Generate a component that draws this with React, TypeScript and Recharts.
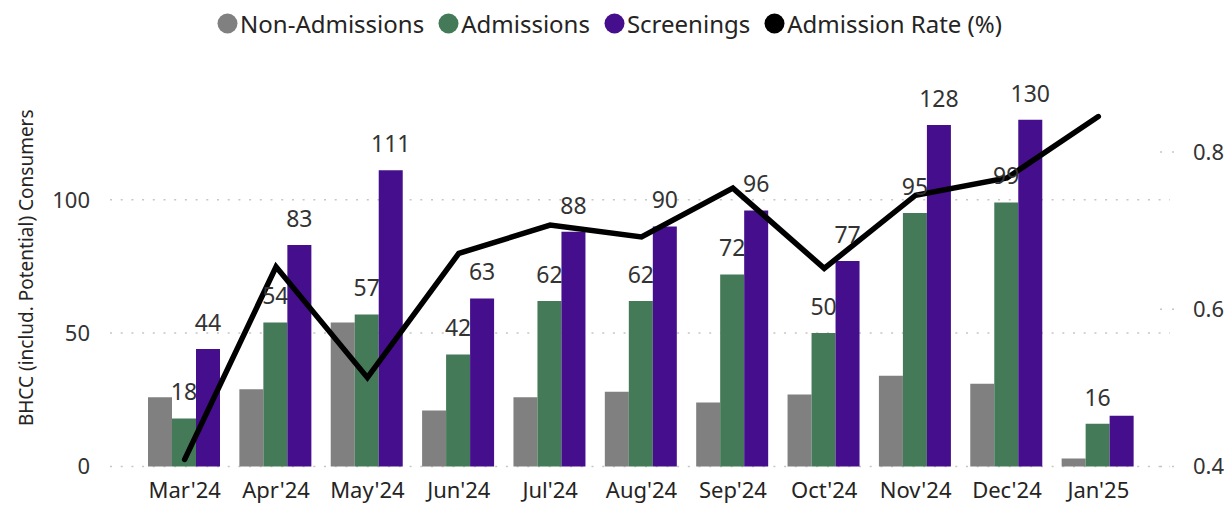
import React from 'react';
import {
  ComposedChart,
  Bar,
  Line,
  XAxis,
  YAxis,
  CartesianGrid,
  Legend,
  LabelList,
  Label,
} from 'recharts';

const months = ["Mar'24", "Apr'24", "May'24", "Jun'24", "Jul'24", "Aug'24", "Sep'24", "Oct'24", "Nov'24", "Dec'24", "Jan'25"];
const nonAdmissions = [26, 29, 54, 21, 26, 28, 24, 27, 34, 31, 3];
const admissions = [18, 54, 57, 42, 62, 62, 72, 50, 95, 99, 16];
const screenings = [44, 83, 111, 63, 88, 90, 96, 77, 128, 130, 19];
// the last screening bar has no data label in the original
const screeningLabels = [44, 83, 111, 63, 88, 90, 96, 77, 128, 130, null];
const admissionRate = [0.409, 0.654, 0.513, 0.671, 0.707, 0.692, 0.754, 0.652, 0.745, 0.767, 0.845];

const leftTicks = [0, 50, 100];
const rightTicks = [0.4, 0.6, 0.8];

const seriesNames = ['Non-Admissions', 'Admissions', 'Screenings', 'Admission Rate (%)'];
const seriesColors = ['#808080', '#447A57', '#440E8C', '#000000'];

const FONT = '"Noto Sans", "Open Sans", sans-serif';

const data = months.map((m, i) => ({
  month: m,
  nonAdmissions: nonAdmissions[i],
  admissions: admissions[i],
  screenings: screenings[i],
  screeningLabel: screeningLabels[i],
  rate: admissionRate[i],
}));

function LegendContent() {
  return (
    <div
      style={{
        height: 93,
        width: 1229,
        display: 'flex',
        justifyContent: 'center',
        alignItems: 'flex-start',
        paddingTop: 9,
        paddingLeft: 4,
        boxSizing: 'border-box',
        fontFamily: FONT,
        fontSize: 24,
        color: '#252423',
      }}
    >
      {seriesNames.map((name, i) => (
        <span key={name} style={{ display: 'flex', alignItems: 'center', marginRight: 14, height: 28 }}>
          <svg width={21} height={21} style={{ marginRight: 2 }}>
            <circle cx={10.5} cy={10.5} r={10} fill={seriesColors[i]} />
          </svg>
          <span>{name}</span>
        </span>
      ))}
    </div>
  );
}

function RightTick(props: any) {
  const { x, y, payload } = props;
  return (
    <g>
      <line x1={x - 33} x2={x - 19} y1={y} y2={y} stroke="#c8c6c4" strokeWidth={1.5} strokeDasharray="2 10" />
      <text x={x} y={y} dy="0.36em" textAnchor="start" fill="#333" fontSize={22} fontFamily={FONT}>
        {payload.value}
      </text>
    </g>
  );
}

function AxisTitle(props: any) {
  const { viewBox } = props;
  const cx = 26;
  const cy = viewBox.y + viewBox.height / 2 - 12;
  return (
    <text
      x={cx}
      y={cy}
      transform={`rotate(-90, ${cx}, ${cy})`}
      textAnchor="middle"
      dominantBaseline="central"
      fill="#252423"
      fontSize={19}
      fontFamily={FONT}
    >
      BHCC (includ. Potential) Consumers
    </text>
  );
}

export default function App() {
  return (
    <div style={{ position: 'absolute', left: 0, top: 0, background: '#fff' }}>
      <ComposedChart
        width={1229}
        height={505}
        data={data}
        margin={{ top: 0, right: 0, bottom: 0, left: 20 }}
        barCategoryGap={9}
        barGap={0}
      >
        <CartesianGrid
          yAxisId="left"
          vertical={false}
          horizontalValues={leftTicks}
          stroke="#c8c6c4"
          strokeWidth={1.5}
          strokeDasharray="2 8.7"
        />
        <XAxis
          dataKey="month"
          height={38.5}
          axisLine={false}
          tickLine={false}
          tickSize={0}
          tickMargin={16}
          padding={{ left: 29, right: 26 }}
          interval={0}
          tick={{ fill: '#252423', fontSize: 22, fontFamily: FONT }}
        />
        <YAxis
          yAxisId="left"
          width={90}
          domain={[0, 140]}
          ticks={leftTicks}
          axisLine={false}
          tickLine={false}
          tickSize={0}
          tickMargin={20}
          tick={{ fill: '#333', fontSize: 22, fontFamily: FONT }}
        >
          <Label content={<AxisTitle />} />
        </YAxis>
        <YAxis
          yAxisId="right"
          orientation="right"
          width={59}
          domain={[0.4, 0.875]}
          ticks={rightTicks}
          axisLine={false}
          tickLine={false}
          tickSize={0}
          tickMargin={23}
          tick={<RightTick />}
        />
        <Legend verticalAlign="top" wrapperStyle={{ top: 0, left: 0 }} content={<LegendContent />} />
        <Bar yAxisId="left" dataKey="nonAdmissions" fill={seriesColors[0]} isAnimationActive={false} />
        <Bar yAxisId="left" dataKey="admissions" fill={seriesColors[1]} isAnimationActive={false}>
          <LabelList dataKey="admissions" position="top" offset={18} fill="#333" fontSize={23} fontFamily={FONT} />
        </Bar>
        <Bar yAxisId="left" dataKey="screenings" fill={seriesColors[2]} isAnimationActive={false}>
          <LabelList dataKey="screeningLabel" position="top" offset={18} fill="#333" fontSize={23} fontFamily={FONT} />
        </Bar>
        <Line
          yAxisId="right"
          type="linear"
          dataKey="rate"
          stroke="#000"
          strokeWidth={5.5}
          strokeLinecap="round"
          dot={false}
          activeDot={false}
          isAnimationActive={false}
        />
      </ComposedChart>
    </div>
  );
}
